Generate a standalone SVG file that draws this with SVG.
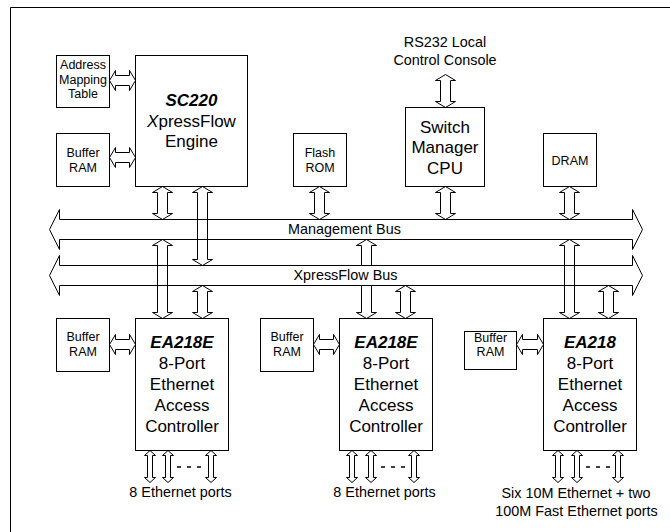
<svg xmlns="http://www.w3.org/2000/svg" width="670" height="532" viewBox="0 0 670 532">
<style>
.box{fill:#fff;stroke:#000;stroke-width:1}
.ar{fill:none;stroke:#000;stroke-width:1;stroke-linejoin:miter}
.bus{fill:none;stroke:#000;stroke-width:1}
.lbg{fill:#fff;stroke:none}
text{font-family:"Liberation Sans",Arial,Helvetica,sans-serif;fill:#000;text-anchor:middle}
.s{font-size:12.5px}
.m{font-size:14.4px}
.l{font-size:17px}
.t{font-size:17px;font-weight:bold;font-style:italic}
.dash{stroke:#000;stroke-width:1.3;stroke-dasharray:4 6}
</style>
<rect width="670" height="532" fill="#fff"/>
<path d="M10.5,532 V7.5 H670" fill="none" stroke="#000" stroke-width="1"/>

<g id="connectors">
<!-- horizontal double arrows -->
<polygon class="ar" points="109.5,80.5 115.5,70.5 115.5,75.5 129.5,75.5 129.5,70.5 135.5,80.5 129.5,90.5 129.5,85.5 115.5,85.5 115.5,90.5"/>
<polygon class="ar" points="109.5,157.5 115.5,147.5 115.5,152.5 129.5,152.5 129.5,147.5 135.5,157.5 129.5,167.5 129.5,162.5 115.5,162.5 115.5,167.5"/>
<polygon class="ar" points="109.5,344.5 115.5,334.5 115.5,339.5 129.5,339.5 129.5,334.5 135.5,344.5 129.5,354.5 129.5,349.5 115.5,349.5 115.5,354.5"/>
<polygon class="ar" points="313.5,344.5 319.5,334.5 319.5,339.5 333.5,339.5 333.5,334.5 339.5,344.5 333.5,354.5 333.5,349.5 319.5,349.5 319.5,354.5"/>
<polygon class="ar" points="516.5,344.5 522.5,334.5 522.5,339.5 537.5,339.5 537.5,334.5 543.5,344.5 537.5,354.5 537.5,349.5 522.5,349.5 522.5,354.5"/>
<!-- vertical double arrows, upper -->
<polygon class="ar" points="162.5,186.5 172.5,192.5 167.5,192.5 167.5,213.5 172.5,213.5 162.5,219.5 152.5,213.5 157.5,213.5 157.5,192.5 152.5,192.5"/>
<polygon class="ar" points="202.5,186.5 212.5,192.5 207.5,192.5 207.5,259.5 212.5,259.5 202.5,265.5 192.5,259.5 197.5,259.5 197.5,192.5 192.5,192.5"/>
<polygon class="ar" points="319.5,186.5 329.5,192.5 324.5,192.5 324.5,213.5 329.5,213.5 319.5,219.5 309.5,213.5 314.5,213.5 314.5,192.5 309.5,192.5"/>
<polygon class="ar" points="445.5,74.5 455.5,80.5 450.5,80.5 450.5,101.5 455.5,101.5 445.5,107.5 435.5,101.5 440.5,101.5 440.5,80.5 435.5,80.5"/>
<polygon class="ar" points="445.5,186.5 455.5,192.5 450.5,192.5 450.5,213.5 455.5,213.5 445.5,219.5 435.5,213.5 440.5,213.5 440.5,192.5 435.5,192.5"/>
<polygon class="ar" points="569.5,186.5 579.5,192.5 574.5,192.5 574.5,213.5 579.5,213.5 569.5,219.5 559.5,213.5 564.5,213.5 564.5,192.5 559.5,192.5"/>
<!-- vertical double arrows, lower -->
<polygon class="ar" points="162.5,239.5 172.5,245.5 167.5,245.5 167.5,312.5 172.5,312.5 162.5,318.5 152.5,312.5 157.5,312.5 157.5,245.5 152.5,245.5"/>
<polygon class="ar" points="202.5,285.5 212.5,291.5 207.5,291.5 207.5,312.5 212.5,312.5 202.5,318.5 192.5,312.5 197.5,312.5 197.5,291.5 192.5,291.5"/>
<polygon class="ar" points="366.5,239.5 376.5,245.5 371.5,245.5 371.5,312.5 376.5,312.5 366.5,318.5 356.5,312.5 361.5,312.5 361.5,245.5 356.5,245.5"/>
<polygon class="ar" points="405.5,285.5 415.5,291.5 410.5,291.5 410.5,312.5 415.5,312.5 405.5,318.5 395.5,312.5 400.5,312.5 400.5,291.5 395.5,291.5"/>
<polygon class="ar" points="569.5,239.5 579.5,245.5 574.5,245.5 574.5,312.5 579.5,312.5 569.5,318.5 559.5,312.5 564.5,312.5 564.5,245.5 559.5,245.5"/>
<polygon class="ar" points="608.5,285.5 618.5,291.5 613.5,291.5 613.5,312.5 618.5,312.5 608.5,318.5 598.5,312.5 603.5,312.5 603.5,291.5 598.5,291.5"/>
<!-- port arrows -->
<g transform="translate(150,0)"><polygon class="ar" points="0,450.5 5.5,455.5 2.5,455.5 2.5,477.5 5.5,477.5 0,482.5 -5.5,477.5 -2.5,477.5 -2.5,455.5 -5.5,455.5"/></g>
<g transform="translate(168,0)"><polygon class="ar" points="0,450.5 5.5,455.5 2.5,455.5 2.5,477.5 5.5,477.5 0,482.5 -5.5,477.5 -2.5,477.5 -2.5,455.5 -5.5,455.5"/></g>
<g transform="translate(211,0)"><polygon class="ar" points="0,450.5 5.5,455.5 2.5,455.5 2.5,477.5 5.5,477.5 0,482.5 -5.5,477.5 -2.5,477.5 -2.5,455.5 -5.5,455.5"/></g>
<line class="dash" x1="177" y1="467" x2="201" y2="467"/>
<g transform="translate(352,0)"><polygon class="ar" points="0,450.5 5.5,455.5 2.5,455.5 2.5,477.5 5.5,477.5 0,482.5 -5.5,477.5 -2.5,477.5 -2.5,455.5 -5.5,455.5"/></g>
<g transform="translate(371,0)"><polygon class="ar" points="0,450.5 5.5,455.5 2.5,455.5 2.5,477.5 5.5,477.5 0,482.5 -5.5,477.5 -2.5,477.5 -2.5,455.5 -5.5,455.5"/></g>
<g transform="translate(414,0)"><polygon class="ar" points="0,450.5 5.5,455.5 2.5,455.5 2.5,477.5 5.5,477.5 0,482.5 -5.5,477.5 -2.5,477.5 -2.5,455.5 -5.5,455.5"/></g>
<line class="dash" x1="381" y1="467" x2="405" y2="467"/>
<g transform="translate(558,0)"><polygon class="ar" points="0,450.5 5.5,455.5 2.5,455.5 2.5,477.5 5.5,477.5 0,482.5 -5.5,477.5 -2.5,477.5 -2.5,455.5 -5.5,455.5"/></g>
<g transform="translate(577,0)"><polygon class="ar" points="0,450.5 5.5,455.5 2.5,455.5 2.5,477.5 5.5,477.5 0,482.5 -5.5,477.5 -2.5,477.5 -2.5,455.5 -5.5,455.5"/></g>
<g transform="translate(618,0)"><polygon class="ar" points="0,450.5 5.5,455.5 2.5,455.5 2.5,477.5 5.5,477.5 0,482.5 -5.5,477.5 -2.5,477.5 -2.5,455.5 -5.5,455.5"/></g>
<line class="dash" x1="586" y1="467" x2="610" y2="467"/>
</g>

<g id="mgmt-bus">
<polygon class="bus" points="59.5,219.5 632.5,219.5 632.5,209.5 642.5,229.5 632.5,249.5 632.5,239.5 59.5,239.5 59.5,249.5 49.5,229.5 59.5,209.5"/>
<text class="m" x="344.5" y="234">Management Bus</text>
</g>
<g id="xpress-bus">
<polygon class="bus" points="59.5,265.5 632.5,265.5 632.5,255.5 642.5,275.5 632.5,295.5 632.5,285.5 59.5,285.5 59.5,295.5 49.5,275.5 59.5,255.5"/>
<rect class="lbg" x="290" y="266" width="111" height="19"/>
<text class="m" x="345.5" y="280">XpressFlow Bus</text>
</g>

<g id="addr-table">
<rect class="box" x="56.5" y="55.5" width="53" height="52"/>
<text class="s" x="83" y="69">Address</text>
<text class="s" x="83" y="83.5">Mapping</text>
<text class="s" x="83" y="98">Table</text>
</g>
<g id="buffer-ram-top">
<rect class="box" x="56.5" y="133.5" width="53" height="53"/>
<text class="s" x="83" y="157">Buffer</text>
<text class="s" x="83" y="172">RAM</text>
</g>
<g id="sc220">
<rect class="box" x="135.5" y="55.5" width="112" height="131"/>
<text class="t" x="191.5" y="105.5">SC220</text>
<text class="l" x="191.5" y="126.5"><tspan font-style="italic">X</tspan>pressFlow</text>
<text class="l" x="191.5" y="147">Engine</text>
</g>
<g id="flash-rom">
<rect class="box" x="293.5" y="133.5" width="53" height="53"/>
<text class="s" x="320" y="157">Flash</text>
<text class="s" x="320" y="172">ROM</text>
</g>
<g id="rs232">
<text class="m" x="445" y="47">RS232 Local</text>
<text class="m" x="445" y="65">Control Console</text>
</g>
<g id="cpu">
<rect class="box" x="405.5" y="107.5" width="79" height="79"/>
<text class="l" x="445" y="132.5">Switch</text>
<text class="l" x="445" y="153">Manager</text>
<text class="l" x="445" y="173.5">CPU</text>
</g>
<g id="dram">
<rect class="box" x="543.5" y="133.5" width="53" height="53"/>
<text class="s" x="570" y="164.5">DRAM</text>
</g>

<g id="buffer-ram-1">
<rect class="box" x="56.5" y="318.5" width="53" height="53"/>
<text class="s" x="83" y="341">Buffer</text>
<text class="s" x="83" y="356">RAM</text>
</g>
<g id="ea218e-1">
<rect class="box" x="135.5" y="318.5" width="93" height="132"/>
<text class="t" x="182" y="348">EA218E</text>
<text class="l" x="182" y="369">8-Port</text>
<text class="l" x="182" y="390">Ethernet</text>
<text class="l" x="182" y="411">Access</text>
<text class="l" x="182" y="432">Controller</text>
</g>
<g id="buffer-ram-2">
<rect class="box" x="260.5" y="318.5" width="53" height="53"/>
<text class="s" x="287" y="341">Buffer</text>
<text class="s" x="287" y="356">RAM</text>
</g>
<g id="ea218e-2">
<rect class="box" x="339.5" y="318.5" width="93" height="132"/>
<text class="t" x="386" y="348">EA218E</text>
<text class="l" x="386" y="369">8-Port</text>
<text class="l" x="386" y="390">Ethernet</text>
<text class="l" x="386" y="411">Access</text>
<text class="l" x="386" y="432">Controller</text>
</g>
<g id="buffer-ram-3">
<rect class="box" x="464.5" y="331.5" width="52" height="38"/>
<text class="s" x="490.5" y="341.5">Buffer</text>
<text class="s" x="490.5" y="356">RAM</text>
</g>
<g id="ea218">
<rect class="box" x="543.5" y="318.5" width="93" height="132"/>
<text class="t" x="590" y="348">EA218</text>
<text class="l" x="590" y="369">8-Port</text>
<text class="l" x="590" y="390">Ethernet</text>
<text class="l" x="590" y="411">Access</text>
<text class="l" x="590" y="432">Controller</text>
</g>
<g id="ports-1">
<text class="m" x="180.5" y="497">8 Ethernet ports</text>
</g>
<g id="ports-2">
<text class="m" x="384.5" y="497">8 Ethernet ports</text>
</g>
<g id="ports-3">
<text class="m" x="576" y="497.5">Six 10M Ethernet + two</text>
<text class="m" x="576.5" y="516">100M Fast Ethernet ports</text>
</g>
</svg>
